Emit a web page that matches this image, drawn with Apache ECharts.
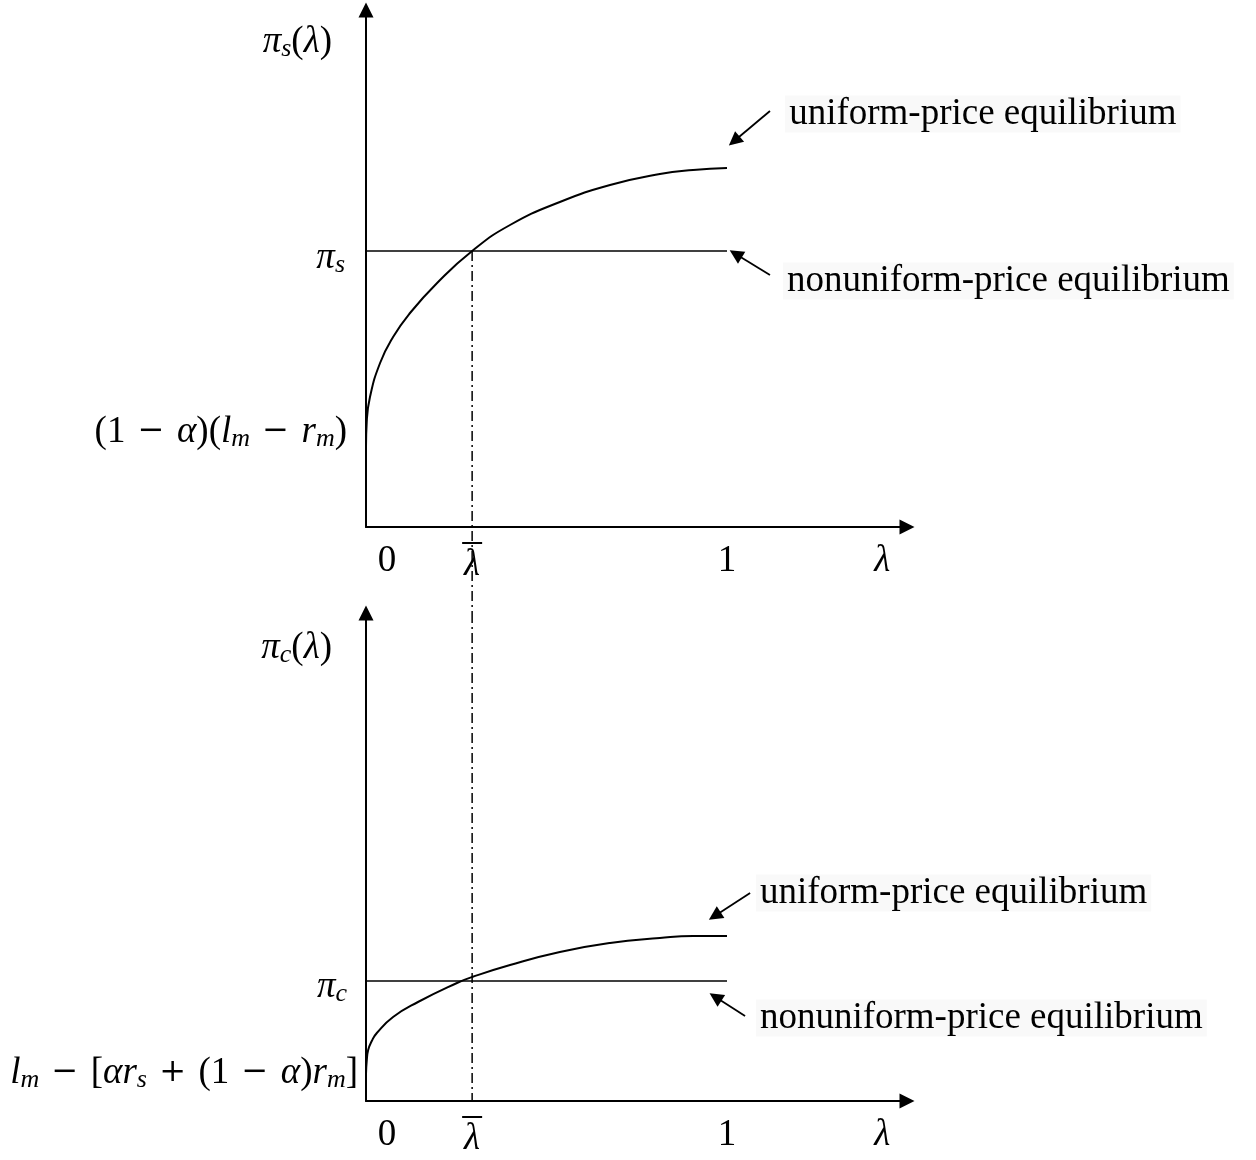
<!DOCTYPE html>
<html lang="en">
<head>
    <meta charset="UTF-8">
    <title>Equilibrium profits</title>
    <script src="https://cdn.jsdelivr.net/npm/echarts@6/dist/echarts.min.js"></script>
    <style>
        html, body { margin: 0; padding: 0; background: #fff; }
        #main { width: 1256px; height: 1160px; }
    </style>
</head>
<body>
<div id="main"></div>
<script>
    // ---- data ----
    // top panel: pi_s(lambda)
    var lamTop = [0, 0.002, 0.011, 0.039, 0.075, 0.122, 0.197, 0.294, 0.399, 0.537, 0.676, 0.814, 0.906, 1.0];
    var piSUniform = [0.80, 1.05, 1.30, 1.64, 1.90, 2.14, 2.44, 2.76, 3.02, 3.25, 3.42, 3.53, 3.57, 3.59];
    var piS = 2.76;
    // bottom panel: pi_c(lambda)
    var lamBot = [0, 0.002, 0.006, 0.016, 0.030, 0.075, 0.144, 0.252, 0.294, 0.399, 0.537, 0.676, 0.814, 0.906, 1.0];
    var piCUniform = [0.27, 0.40, 0.51, 0.60, 0.68, 0.84, 0.99, 1.18, 1.24, 1.36, 1.49, 1.58, 1.63, 1.65, 1.65];
    var piC = 1.20;
    var lamBar = 0.294;

    // tick labels (three-per-em spaces stand in for TeX math spacing)
    var SP = '\u2004';
    function op(s) { return '{rm|' + SP + '}{op|' + s + '}{rm|' + SP + '}'; }
    var xLabelPos = [0.058, 0.294, 1, 1.43];
    var xLabels = ['{rm|0}', '{bar| }\n{it|λ}', '{rm|1}', '{it|λ}'];
    var yTopPos = [4.85, 2.69, 0.95];
    var yTopLabels = [
        '{it|π}{sub|s}{rm|(}{it|λ}{rm|)}{g26| }',
        '{it|π}{sub|s}{g13| }',
        '{rm|(1}' + op('−') + '{it|α}{rm|)(}{it|l}{sub|m}' + op('−') + '{it|r}{sub|m}{rm|)}{g11| }'
    ];
    var yBotPos = [4.53, 1.14, 0.28];
    var yBotLabels = [
        '{it|π}{sub|c}{rm|(}{it|λ}{rm|)}{g26| }',
        '{it|π}{sub|c}{g11| }',
        '{it|l}{sub|m}' + op('−') + '{rm|[}{it|αr}{sub|s}' + op('+') + '{rm|(1}' + op('−') + '{it|α}{rm|)}{it|r}{sub|m}{rm|]}'
    ];

    // annotations: [tail, tip] and text anchors
    var arrowsTop = [[[1.119, 4.16], [1.020, 3.86]], [[1.119, 2.52], [1.024, 2.73]]];
    var arrowsBot = [[[1.064, 2.08], [0.966, 1.85]], [[1.050, 0.85], [0.968, 1.04]]];
    var notesTop = [['uniform-price equilibrium', 1.161, 4.13], ['nonuniform-price equilibrium', 1.155, 2.46]];
    var notesBot = [['uniform-price equilibrium', 1.080, 2.08], ['nonuniform-price equilibrium', 1.080, 0.83]];

    var serif = 'Liberation Serif';
    var rich = {
        rm: { fontFamily: serif, fontSize: 37, lineHeight: 40, color: '#000' },
        it: { fontFamily: serif, fontSize: 37, lineHeight: 40, fontStyle: 'italic', color: '#000' },
        op: { fontFamily: 'DejaVu Serif', fontSize: 32, lineHeight: 40, color: '#000' },
        sub: { fontFamily: serif, fontSize: 26, lineHeight: 22, fontStyle: 'italic', verticalAlign: 'bottom', color: '#000' },
        bar: { width: 20, height: 2, lineHeight: 4, backgroundColor: '#000' },
        g26: { width: 26, lineHeight: 40 },
        g13: { width: 13, lineHeight: 40 },
        g11: { width: 11, lineHeight: 40 }
    };

    function zip(xs, ys) {
        return xs.map(function (x, i) { return [x, ys[i]]; });
    }
    function pick(pos, labels) {
        return function (v) {
            var best = 0;
            for (var i = 1; i < pos.length; i++) {
                if (Math.abs(pos[i] - v) < Math.abs(pos[best] - v)) best = i;
            }
            return labels[best];
        };
    }
    var axisLineStyle = { show: true, symbol: ['none', 'triangle'], symbolSize: [15, 15], lineStyle: { color: '#000', width: 2 } };
    function xAxisOf(idx) {
        return {
            type: 'value', gridIndex: idx, min: 0, max: 1.4986,
            axisLine: axisLineStyle,
            axisTick: { show: false },
            splitLine: { show: false },
            axisLabel: { customValues: xLabelPos, margin: 14, formatter: pick(xLabelPos, xLabels), rich: rich }
        };
    }
    function yAxisOf(idx, max, pos, labels) {
        return {
            type: 'value', gridIndex: idx, min: 0, max: max,
            axisLine: axisLineStyle,
            axisTick: { show: false },
            splitLine: { show: false },
            axisLabel: { customValues: pos, margin: 8, formatter: pick(pos, labels), rich: rich }
        };
    }
    function panelSeries(idx, lam, uni, flat, arrows, notes) {
        return [
            {
                type: 'line', xAxisIndex: idx, yAxisIndex: idx, data: zip(lam, uni),
                smooth: 0.5, showSymbol: false,
                lineStyle: { color: '#000', width: 2 }
            },
            {
                type: 'line', xAxisIndex: idx, yAxisIndex: idx, data: [[0, flat], [1, flat]],
                showSymbol: false, lineStyle: { color: '#000', width: 1.6 }
            },
            {
                type: 'lines', coordinateSystem: 'cartesian2d', xAxisIndex: idx, yAxisIndex: idx,
                symbol: ['none', 'triangle'], symbolSize: [12, 14],
                lineStyle: { color: '#000', width: 1.8, opacity: 1 },
                data: arrows.map(function (a) { return { coords: a }; })
            },
            {
                type: 'scatter', xAxisIndex: idx, yAxisIndex: idx, symbolSize: 0,
                itemStyle: { opacity: 1 },
                label: {
                    show: true, position: 'right', distance: 0, formatter: '{b}',
                    fontFamily: serif, fontSize: 37, color: '#000', opacity: 1,
                    backgroundColor: '#f9f9f9', padding: [0, 4]
                },
                data: notes.map(function (n) { return { name: n[0], value: [n[1], n[2]] }; })
            }
        ];
    }

    var myChart = echarts.init(document.getElementById('main'));

    var series = panelSeries(0, lamTop, piSUniform, piS, arrowsTop, notesTop)
        .concat(panelSeries(1, lamBot, piCUniform, piC, arrowsBot, notesBot));
    var dashDot = { color: '#000', width: 1.5, type: [10, 4, 2, 4] };
    // dash-dot line at lambda-bar: top panel part runs down into the gap, bottom panel part to the axis
    series.push({
        type: 'line', xAxisIndex: 0, yAxisIndex: 0, clip: false, showSymbol: false,
        data: [[lamBar, piS], [lamBar, -0.86]], lineStyle: dashDot
    });
    series.push({
        type: 'line', xAxisIndex: 1, yAxisIndex: 1, clip: false, showSymbol: false,
        data: [[lamBar, 4.88], [lamBar, 0]], lineStyle: dashDot
    });

    option = {
        animation: false,
        backgroundColor: '#fff',
        grid: [
            { left: 366, right: 349, top: 10, bottom: 633 },
            { left: 366, right: 349, top: 613, bottom: 59 }
        ],
        xAxis: [xAxisOf(0), xAxisOf(1)],
        yAxis: [yAxisOf(0, 5.17, yTopPos, yTopLabels), yAxisOf(1, 4.88, yBotPos, yBotLabels)],
        series: series
    };

    myChart.setOption(option);
</script>
</body>
</html>
